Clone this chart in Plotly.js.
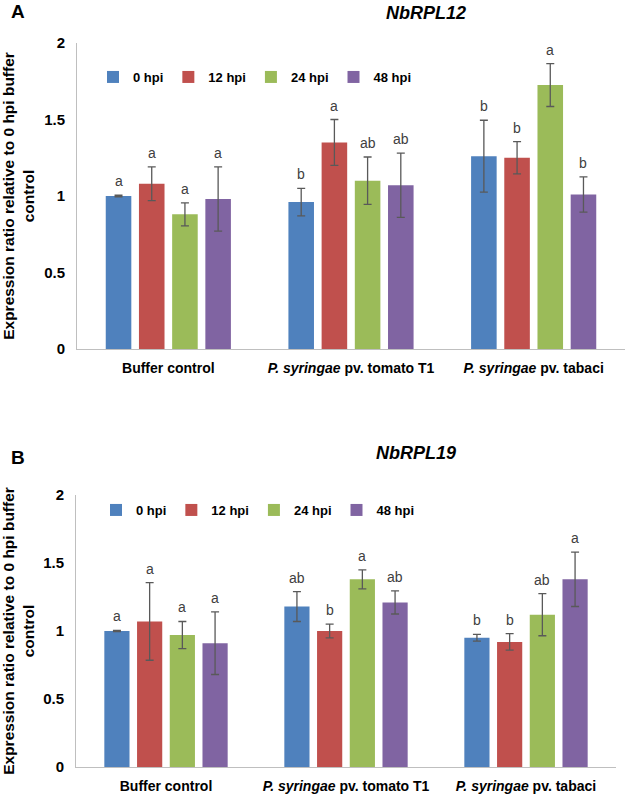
<!DOCTYPE html>
<html>
<head>
<meta charset="utf-8">
<script src="https://cdn.plot.ly/plotly-3.0.1.min.js"></script>
<style>html,body{margin:0;padding:0;background:#fff;}#chart{width:630px;height:795px;}</style>
</head>
<body>
<div id="chart"></div>
<script>
const categories = ['Buffer control', '<i>P. syringae</i> pv. tomato T1', '<i>P. syringae</i> pv. tabaci'];
const seriesNames = ['0 hpi', '12 hpi', '24 hpi', '48 hpi'];

// NbRPL12 (panel A)
const rpl12_0h = [1.00, 0.96, 1.26];
const rpl12_12h = [1.08, 1.35, 1.25];
const rpl12_24h = [0.88, 1.10, 1.725];
const rpl12_48h = [0.98, 1.07, 1.01];
const rpl12_err_0h = [0.005, 0.09, 0.235];
const rpl12_err_12h = [0.11, 0.15, 0.105];
const rpl12_err_24h = [0.075, 0.155, 0.14];
const rpl12_err_48h = [0.21, 0.21, 0.115];
const rpl12_sig_0h = ['a', 'b', 'b'];
const rpl12_sig_12h = ['a', 'a', 'b'];
const rpl12_sig_24h = ['a', 'ab', 'a'];
const rpl12_sig_48h = ['a', 'ab', 'b'];

// NbRPL19 (panel B)
const rpl19_0h = [1.00, 1.18, 0.95];
const rpl19_12h = [1.07, 1.00, 0.92];
const rpl19_24h = [0.97, 1.38, 1.12];
const rpl19_48h = [0.91, 1.21, 1.38];
const rpl19_err_0h = [0.005, 0.11, 0.025];
const rpl19_err_12h = [0.285, 0.05, 0.06];
const rpl19_err_24h = [0.10, 0.07, 0.155];
const rpl19_err_48h = [0.23, 0.085, 0.20];
const rpl19_sig_0h = ['a', 'ab', 'b'];
const rpl19_sig_12h = ['a', 'b', 'b'];
const rpl19_sig_24h = ['a', 'a', 'ab'];
const rpl19_sig_48h = ['a', 'ab', 'a'];

const yTicks = [0, 0.5, 1, 1.5, 2];

const colors = ['#4F81BD', '#C0504D', '#9BBB59', '#8064A2'];
const FONT = 'Liberation Sans, Arial, sans-serif';
const BARGAP = 0.273, GROUPGAP = 0.23;

const panels = [
  {vals: [rpl12_0h, rpl12_12h, rpl12_24h, rpl12_48h], errs: [rpl12_err_0h, rpl12_err_12h, rpl12_err_24h, rpl12_err_48h],
   sigs: [rpl12_sig_0h, rpl12_sig_12h, rpl12_sig_24h, rpl12_sig_48h], xa: 'x', ya: 'y', legend: 'legend'},
  {vals: [rpl19_0h, rpl19_12h, rpl19_24h, rpl19_48h], errs: [rpl19_err_0h, rpl19_err_12h, rpl19_err_24h, rpl19_err_48h],
   sigs: [rpl19_sig_0h, rpl19_sig_12h, rpl19_sig_24h, rpl19_sig_48h], xa: 'x2', ya: 'y2', legend: 'legend2'}
];

const traces = [];
const annotations = [];
panels.forEach(p => {
  seriesNames.forEach((name, i) => {
    traces.push({
      type: 'bar', name: name, x: categories, y: p.vals[i],
      xaxis: p.xa, yaxis: p.ya, legend: p.legend,
      marker: {color: colors[i]},
      error_y: {type: 'data', array: p.errs[i], visible: true, color: '#595959', thickness: 1.3, width: 4},
      hoverinfo: 'y'
    });
    const off = (i - 1.5) * (1 - BARGAP) / 4;
    categories.forEach((c, k) => {
      annotations.push({
        xref: p.xa, yref: p.ya, x: k + off, y: p.vals[i][k] + p.errs[i][k],
        text: p.sigs[i][k], showarrow: false, yanchor: 'bottom', yshift: 4,
        font: {family: FONT, size: 14, color: '#404040'}
      });
    });
  });
});

const W = 630, H = 795;
const px = v => v / W, py = v => 1 - v / H;

annotations.push(
  {xref: 'paper', yref: 'paper', x: px(9), y: py(12), text: '<b>A</b>', showarrow: false, xanchor: 'left', yanchor: 'middle', font: {family: FONT, size: 19, color: '#000'}},
  {xref: 'paper', yref: 'paper', x: px(426), y: py(13), text: '<b><i>NbRPL12</i></b>', showarrow: false, xanchor: 'center', yanchor: 'middle', font: {family: FONT, size: 18, color: '#000'}},
  {xref: 'paper', yref: 'paper', x: px(9), y: py(457), text: '<b>B</b>', showarrow: false, xanchor: 'left', yanchor: 'middle', font: {family: FONT, size: 19, color: '#000'}},
  {xref: 'paper', yref: 'paper', x: px(416), y: py(453), text: '<b><i>NbRPL19</i></b>', showarrow: false, xanchor: 'center', yanchor: 'middle', font: {family: FONT, size: 18, color: '#000'}}
);

const yTitle = {text: 'Expression ratio relative to 0 hpi buffer<br>control', font: {family: FONT, size: 15.5, weight: 'bold', color: '#000'}, standoff: 10};
const yaxisBase = {
  range: [0, 2], tickvals: yTicks, ticktext: yTicks.map(String), showgrid: false, zeroline: false,
  showline: true, linecolor: '#BFBFBF', linewidth: 1, ticks: '',
  tickfont: {family: FONT, size: 15, weight: 'bold', color: '#000'}, ticklabelstandoff: 8,
  automargin: false, title: yTitle, fixedrange: true
};
const xaxisBase = {
  type: 'category', showgrid: false, showline: true, linecolor: '#BFBFBF', linewidth: 1, ticks: '',
  tickfont: {family: FONT, size: 14, weight: 'bold', color: '#000'}, ticklabelstandoff: 6,
  automargin: false, fixedrange: true
};

const legendBase = {orientation: 'h', xref: 'paper', yref: 'paper', xanchor: 'center', yanchor: 'middle',
  font: {family: FONT, size: 13, weight: 'bold', color: '#000'}, bgcolor: 'rgba(0,0,0,0)', itemwidth: 30, traceorder: 'normal'};

const layout = {
  width: W, height: H, margin: {l: 0, r: 0, t: 0, b: 0}, paper_bgcolor: '#fff', plot_bgcolor: '#fff',
  barmode: 'group', bargap: BARGAP, bargroupgap: GROUPGAP, showlegend: true,
  xaxis: Object.assign({}, xaxisBase, {domain: [px(77), px(625)], anchor: 'y'}),
  yaxis: Object.assign({}, yaxisBase, {domain: [py(349), py(43)], anchor: 'x'}),
  xaxis2: Object.assign({}, xaxisBase, {domain: [px(76), px(616)], anchor: 'y2'}),
  yaxis2: Object.assign({}, yaxisBase, {domain: [py(767), py(495)], anchor: 'x2'}),
  legend: Object.assign({}, legendBase, {x: px(255), y: py(77)}),
  legend2: Object.assign({}, legendBase, {x: px(258), y: py(510)}),
  annotations: annotations
};

Plotly.newPlot('chart', traces, layout, {displayModeBar: false, staticPlot: true});
</script>
</body>
</html>
